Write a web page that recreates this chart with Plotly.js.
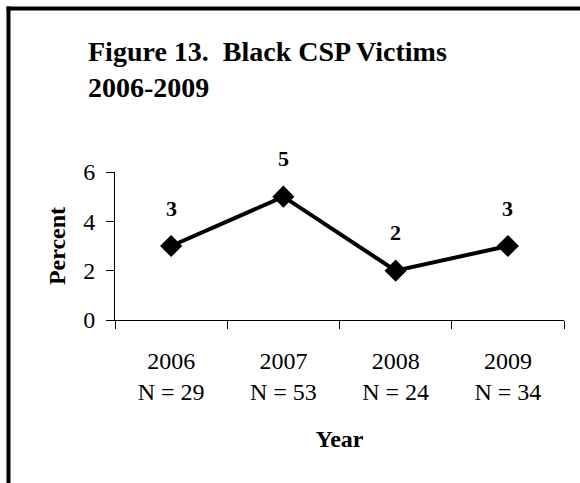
<!DOCTYPE html>
<html>
<head>
<meta charset="utf-8">
<script src="https://cdn.plot.ly/plotly-3.0.1.min.js"></script>
<style>
html,body{margin:0;padding:0;background:#fff;}
#chart{width:580px;height:483px;}
</style>
</head>
<body>
<div id="chart"></div>
<script>
const years = ['2006', '2007', '2008', '2009'];
const counts = [29, 53, 24, 34];
const percent = [3, 5, 2, 3];
const yTickVals = [0, 2, 4, 6];

const categories = years.map((y, i) => y + '<br>N = ' + counts[i]);

const W = 580, H = 483;
const M = {l: 115, r: 16, t: 172, b: 163};
const pw = W - M.l - M.r, ph = H - M.t - M.b;
const px = x => (x - M.l) / pw;
const py = y => (H - M.b - y) / ph;

const FONT = 'Liberation Serif, Times New Roman, serif';

const trace = {
  x: categories,
  y: percent,
  type: 'scatter',
  mode: 'lines+markers',
  line: {color: '#000', width: 4},
  marker: {symbol: 'diamond', size: 17, color: '#000'},
  hoverinfo: 'skip'
};

const annotations = categories.map((c, i) => ({
  x: c, y: percent[i], xref: 'x', yref: 'y',
  text: '<b>' + percent[i] + '</b>',
  showarrow: false, yshift: 38,
  font: {family: FONT, size: 22, color: '#000'}
}));

const shapes = [
  {type: 'line', xref: 'paper', yref: 'paper', x0: px(8.5), x1: px(8.5), y0: py(6.5), y1: py(490), line: {color: '#000', width: 4}},
  {type: 'line', xref: 'paper', yref: 'paper', x0: px(6.5), x1: px(590), y0: py(8.5), y1: py(8.5), line: {color: '#000', width: 4}}
];

const layout = {
  width: W, height: H,
  margin: M,
  paper_bgcolor: '#fff', plot_bgcolor: '#fff',
  showlegend: false,
  font: {family: FONT, size: 24, color: '#000'},
  title: {
    text: '<b>Figure 13.&nbsp; Black CSP Victims<br>2006-2009</b>',
    font: {family: FONT, size: 28, color: '#000'},
    xref: 'container', yref: 'container',
    x: 88 / W, xanchor: 'left',
    y: 1 - 61 / H, yanchor: 'top'
  },
  xaxis: {
    type: 'category',
    range: [-0.5, 3.5],
    showgrid: false, zeroline: false,
    showline: true, linecolor: '#000', linewidth: 1,
    ticks: 'outside', tickson: 'boundaries', ticklen: 8, tickcolor: '#000', tickwidth: 1,
    tickfont: {family: FONT, size: 24, color: '#000'},
    ticklabelstandoff: 19,
    title: {text: '<b>Year</b>', font: {family: FONT, size: 24, color: '#000'}, standoff: 26},
    fixedrange: true
  },
  yaxis: {
    range: [0, 6],
    tickvals: yTickVals,
    showgrid: false, zeroline: false,
    showline: true, linecolor: '#000', linewidth: 1,
    ticks: 'outside', ticklen: 8, tickcolor: '#000', tickwidth: 1,
    tickfont: {family: FONT, size: 24, color: '#000'},
    ticklabelstandoff: 6,
    title: {text: '<b>Percent</b>', font: {family: FONT, size: 24, color: '#000'}, standoff: 10},
    fixedrange: true
  },
  annotations: annotations,
  shapes: shapes
};

Plotly.newPlot('chart', [trace], layout, {displayModeBar: false, staticPlot: true});
</script>
</body>
</html>
